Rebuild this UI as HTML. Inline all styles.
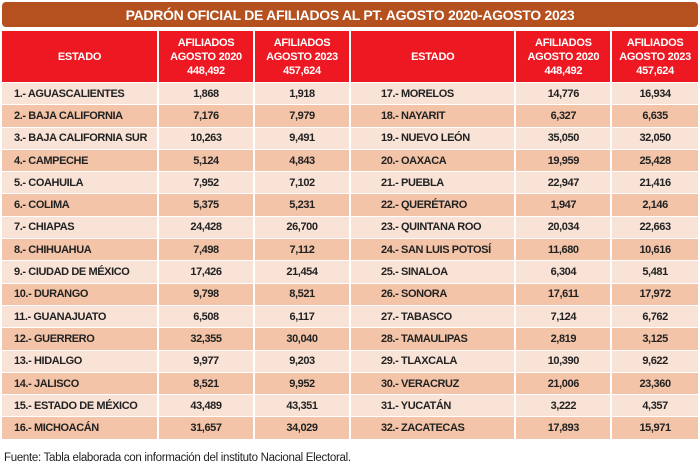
<!DOCTYPE html><html><head><style>
body{margin:0;width:700px;height:469px;background:#fff;font-family:"Liberation Sans Narrow","Liberation Sans",sans-serif;position:relative;overflow:hidden}
.title{position:absolute;left:2px;top:2px;width:696px;height:25px;background:#b5501f;border-radius:4px;color:#fff;font-weight:bold;font-size:14px;text-align:center;line-height:26px;letter-spacing:-0.3px}
table{position:absolute;top:30px;border-collapse:separate;border-spacing:2px 1px}
td{font-weight:bold;font-size:11px;color:#222;height:21.3px;padding:0;text-align:center;letter-spacing:-0.4px}
th{background:#ee1822;color:#fff;font-size:11px;height:51px;padding:0;line-height:14px;letter-spacing:-0.3px}
td.s{text-align:left;padding-left:12px}
tr.l td{background:#f9e2d6}tr.d td{background:#f3c4a8}
.f{position:absolute;left:4px;top:452px;font-size:11.5px;color:#222;letter-spacing:-0.3px}
</style></head><body>
<div class="title">PADRÓN OFICIAL DE AFILIADOS AL PT. AGOSTO 2020-AGOSTO 2023</div>
<table style="left:0"><colgroup><col style="width:155px"><col style="width:94px"><col style="width:94px"></colgroup>
<tr><th>ESTADO</th><th>AFILIADOS<br>AGOSTO 2020<br>448,492</th><th>AFILIADOS<br>AGOSTO 2023<br>457,624</th></tr>
<tr class="l"><td class="s">1.- AGUASCALIENTES</td><td>1,868</td><td>1,918</td></tr>
<tr class="d"><td class="s">2.- BAJA CALIFORNIA</td><td>7,176</td><td>7,979</td></tr>
<tr class="l"><td class="s">3.- BAJA CALIFORNIA SUR</td><td>10,263</td><td>9,491</td></tr>
<tr class="d"><td class="s">4.- CAMPECHE</td><td>5,124</td><td>4,843</td></tr>
<tr class="l"><td class="s">5.- COAHUILA</td><td>7,952</td><td>7,102</td></tr>
<tr class="d"><td class="s">6.- COLIMA</td><td>5,375</td><td>5,231</td></tr>
<tr class="l"><td class="s">7.- CHIAPAS</td><td>24,428</td><td>26,700</td></tr>
<tr class="d"><td class="s">8.- CHIHUAHUA</td><td>7,498</td><td>7,112</td></tr>
<tr class="l"><td class="s">9.- CIUDAD DE MÉXICO</td><td>17,426</td><td>21,454</td></tr>
<tr class="d"><td class="s">10.- DURANGO</td><td>9,798</td><td>8,521</td></tr>
<tr class="l"><td class="s">11.- GUANAJUATO</td><td>6,508</td><td>6,117</td></tr>
<tr class="d"><td class="s">12.- GUERRERO</td><td>32,355</td><td>30,040</td></tr>
<tr class="l"><td class="s">13.- HIDALGO</td><td>9,977</td><td>9,203</td></tr>
<tr class="d"><td class="s">14.- JALISCO</td><td>8,521</td><td>9,952</td></tr>
<tr class="l"><td class="s">15.- ESTADO DE MÉXICO</td><td>43,489</td><td>43,351</td></tr>
<tr class="d"><td class="s">16.- MICHOACÁN</td><td>31,657</td><td>34,029</td></tr>
</table>
<table style="left:349px"><colgroup><col style="width:164px"><col style="width:94px"><col style="width:86px"></colgroup>
<tr><th>ESTADO</th><th>AFILIADOS<br>AGOSTO 2020<br>448,492</th><th>AFILIADOS<br>AGOSTO 2023<br>457,624</th></tr>
<tr class="l"><td class="s" style="padding-left:30px">17.- MORELOS</td><td>14,776</td><td>16,934</td></tr>
<tr class="d"><td class="s" style="padding-left:30px">18.- NAYARIT</td><td>6,327</td><td>6,635</td></tr>
<tr class="l"><td class="s" style="padding-left:30px">19.- NUEVO LEÓN</td><td>35,050</td><td>32,050</td></tr>
<tr class="d"><td class="s" style="padding-left:30px">20.- OAXACA</td><td>19,959</td><td>25,428</td></tr>
<tr class="l"><td class="s" style="padding-left:30px">21.- PUEBLA</td><td>22,947</td><td>21,416</td></tr>
<tr class="d"><td class="s" style="padding-left:30px">22.- QUERÉTARO</td><td>1,947</td><td>2,146</td></tr>
<tr class="l"><td class="s" style="padding-left:30px">23.- QUINTANA ROO</td><td>20,034</td><td>22,663</td></tr>
<tr class="d"><td class="s" style="padding-left:30px">24.- SAN LUIS POTOSÍ</td><td>11,680</td><td>10,616</td></tr>
<tr class="l"><td class="s" style="padding-left:30px">25.- SINALOA</td><td>6,304</td><td>5,481</td></tr>
<tr class="d"><td class="s" style="padding-left:30px">26.- SONORA</td><td>17,611</td><td>17,972</td></tr>
<tr class="l"><td class="s" style="padding-left:30px">27.- TABASCO</td><td>7,124</td><td>6,762</td></tr>
<tr class="d"><td class="s" style="padding-left:30px">28.- TAMAULIPAS</td><td>2,819</td><td>3,125</td></tr>
<tr class="l"><td class="s" style="padding-left:30px">29.- TLAXCALA</td><td>10,390</td><td>9,622</td></tr>
<tr class="d"><td class="s" style="padding-left:30px">30.- VERACRUZ</td><td>21,006</td><td>23,360</td></tr>
<tr class="l"><td class="s" style="padding-left:30px">31.- YUCATÁN</td><td>3,222</td><td>4,357</td></tr>
<tr class="d"><td class="s" style="padding-left:30px">32.- ZACATECAS</td><td>17,893</td><td>15,971</td></tr>
</table>
<div class="f">Fuente: Tabla elaborada con información del instituto Nacional Electoral.</div>
</body></html>
